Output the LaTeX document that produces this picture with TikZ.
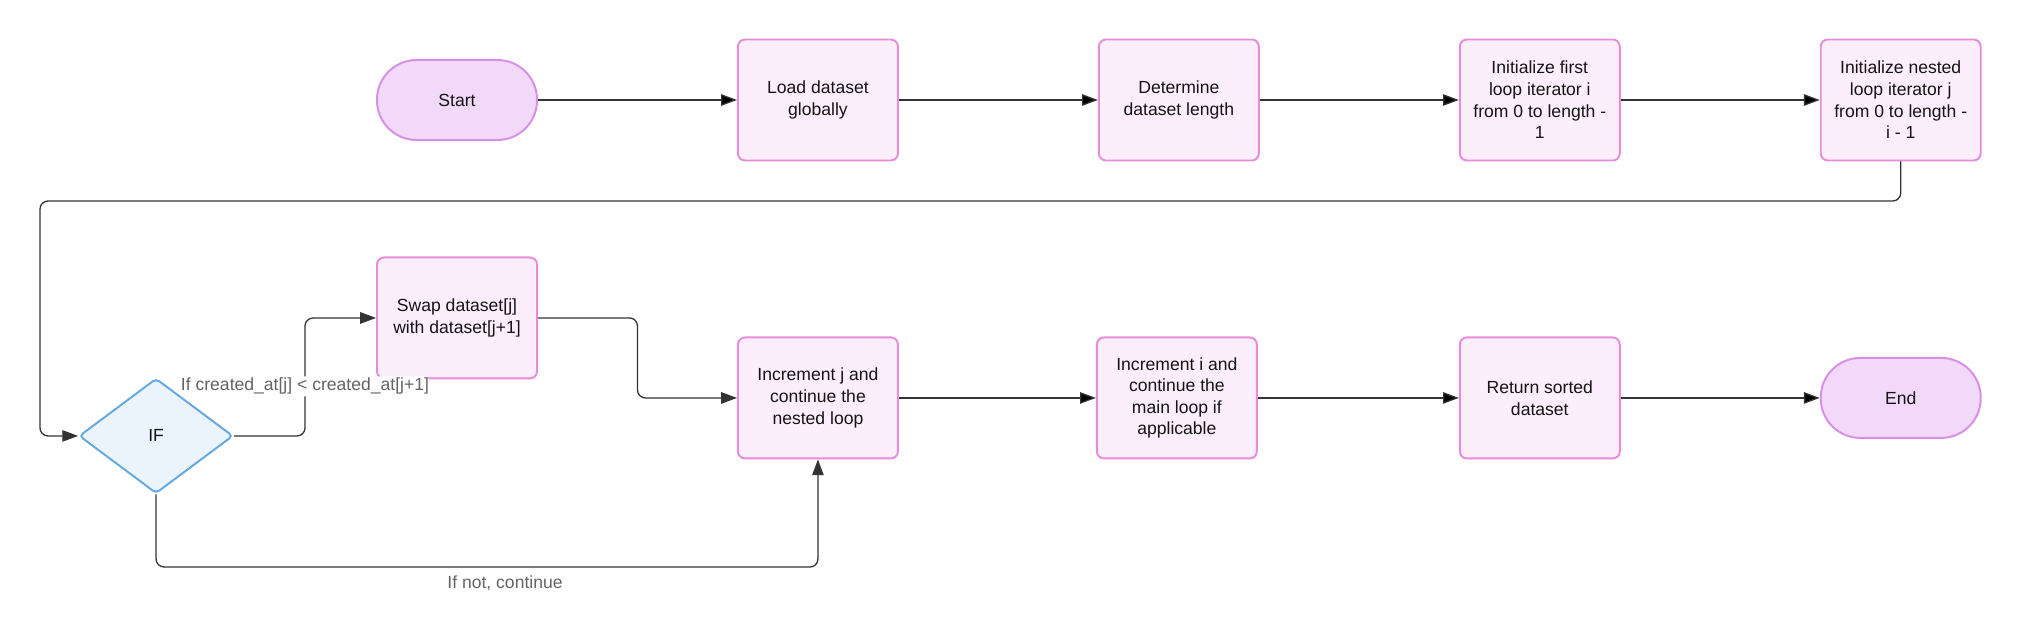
\documentclass[tikz,border=0pt]{standalone}
\usepackage{fontspec}
\setmainfont{Liberation Sans}
\usetikzlibrary{shapes.geometric,arrows.meta,calc}

\definecolor{procfill}{RGB}{253,238,251}
\definecolor{procline}{RGB}{230,140,218}
\definecolor{termfill}{RGB}{242,217,250}
\definecolor{termline}{RGB}{214,142,230}
\definecolor{condfill}{RGB}{235,244,252}
\definecolor{condline}{RGB}{98,168,226}
\definecolor{wire}{RGB}{51,51,51}
\definecolor{txt}{RGB}{20,20,20}
\definecolor{lbltxt}{RGB}{100,100,100}

\begin{document}
\begin{tikzpicture}[x=0.02cm,y=0.02cm,node distance=7.22cm]
\tikzstyle{proc}=[draw=procline,fill=procfill,line width=1.1pt,rounded corners=0.14cm,minimum width=3.2cm,minimum height=2.42cm,align=center,text=txt,font=\fontsize{10}{12.3}\selectfont]
\tikzstyle{term}=[draw=termline,fill=termfill,line width=1.1pt,rounded corners=0.79cm,minimum width=3.2cm,minimum height=1.6cm,text=txt,font=\fontsize{10}{12.3}\selectfont]
\tikzstyle{cond}=[diamond,aspect=1.34,draw=condline,fill=condfill,line width=1.1pt,rounded corners=0.08cm,inner sep=0pt,minimum width=3.08cm,minimum height=2.3cm,text=txt,font=\fontsize{10}{12.3}\selectfont]
\tikzstyle{link}=[draw=wire,line width=0.75pt,rounded corners=0.16cm,-{Triangle[length=9pt,width=6.5pt]}]
\tikzstyle{lbl}=[text=lbltxt,font=\fontsize{10}{12.3}\selectfont]

\useasboundingbox (0,0) rectangle (2024,632);

% top row
\node [term] at (457,532) (start) {Start};
\node [proc,right of=start] (load) {Load dataset\\globally};
\node [proc,right of=load] (det) {Determine\\dataset length};
\node [proc,right of=det] (first) {Initialize first\\loop iterator i\\from 0 to length -\\1};
\node [proc,right of=first] (nested) {Initialize nested\\loop iterator j\\from 0 to length -\\i - 1};

% bottom row
\node [proc,below of=load,node distance=5.96cm] (incj) {Increment j and\\continue the\\nested loop};
\node [proc,right of=incj,node distance=7.18cm] (inci) {Increment i and\\continue the\\main loop if\\applicable};
\node [proc,right of=inci,node distance=7.26cm] (ret) {Return sorted\\dataset};
\node [term,right of=ret] (stop) {End};

\node [proc,left of=incj,shift={(0mm,16mm)}] (swap) {Swap dataset[j]\\with dataset[j+1]};
\node [cond,left of=swap,node distance=6.02cm,shift={(0mm,-23.6mm)}] (test) {IF};

\coordinate (topbend) at (40,431);
\coordinate (swapbend) at (305,314);
\coordinate (lowbend) at (505,65);

\path[link]
    (start) edge (load)
    (load) edge (det)
    (det) edge (first)
    (first) edge (nested);

\path[link]
    (incj) edge (inci)
    (inci) edge (ret)
    (ret) edge (stop);

\draw[link] (nested.south) |- (topbend) |- (test.west);

\draw[link] (test.east) -| node [lbl,fill=white,inner sep=1pt,pos=0.71] {If created\_at[j] < created\_at[j+1]} (swapbend) -- (swap.west);

\draw[link] (swap.east) -| ($(swap.east)!0.5!(incj.west)$) |- (incj.west);

\draw[link] (test.south) |- (lowbend) node [lbl,below,yshift=-1pt] {If not, continue} -| (incj.south);

\end{tikzpicture}
\end{document}
